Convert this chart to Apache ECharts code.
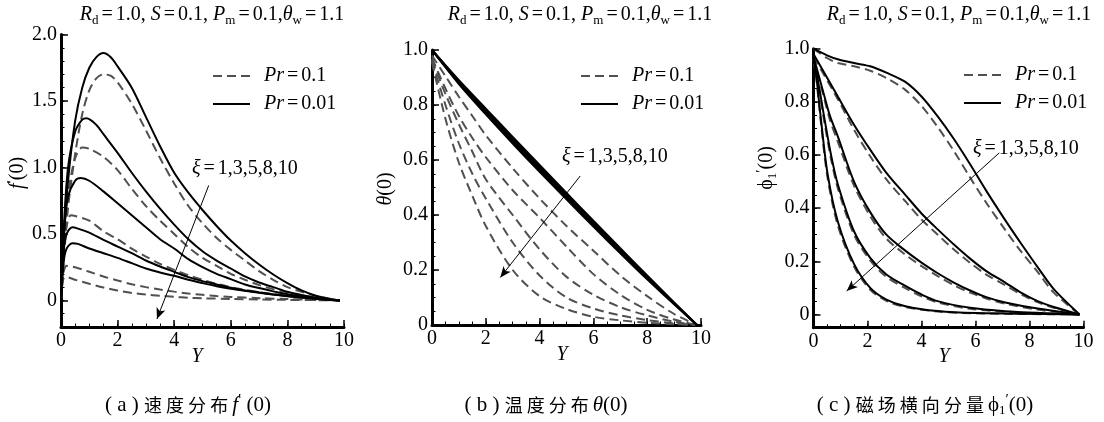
<!DOCTYPE html>
<html>
<head>
<meta charset="utf-8">
<script src="https://cdn.jsdelivr.net/npm/echarts@6/dist/echarts.min.js"></script>
<style>html,body{margin:0;padding:0;background:#fff}#c{width:1104px;height:422px}</style>
</head>
<body>
<div id="c"></div>
<script>
// ---------- DATA ----------
const xTicks = [0, 2, 4, 6, 8, 10];
const velYTicks = [0, 0.5, 1.0, 1.5, 2.0];
const tempYTicks = [0, 0.2, 0.4, 0.6, 0.8, 1.0];
const magYTicks = [0, 0.2, 0.4, 0.6, 0.8, 1.0];

// (a) velocity f'(0), Pr=0.01 (solid), xi = 1,3,5,8,10
const velSolid1 = [[0,0],[0.1,0.45],[0.25,0.9],[0.5,1.35],[0.75,1.6],[1.0,1.75],[1.25,1.83],[1.5,1.86],[1.75,1.83],[2.0,1.76],[2.5,1.6],[3.0,1.38],[3.5,1.16],[4.0,0.96],[4.5,0.81],[5.0,0.68],[5.5,0.56],[6.0,0.45],[6.5,0.355],[7.0,0.27],[7.5,0.195],[8.0,0.13],[8.5,0.075],[9.0,0.035],[9.5,0.01],[9.85,0]];
const velSolid2 = [[0,0],[0.1,0.55],[0.25,1.0],[0.5,1.27],[0.75,1.36],[0.9,1.37],[1.25,1.32],[1.5,1.25],[2.0,1.11],[2.5,0.96],[3.0,0.82],[3.5,0.69],[4.0,0.57],[4.5,0.46],[5.0,0.37],[5.5,0.3],[6.0,0.24],[6.5,0.18],[7.0,0.135],[7.5,0.1],[8.0,0.065],[8.5,0.04],[9.0,0.02],[9.5,0.006],[9.85,0]];
const velSolid3 = [[0,0],[0.1,0.5],[0.25,0.78],[0.5,0.9],[0.7,0.92],[1.0,0.9],[1.5,0.82],[2.0,0.73],[2.5,0.64],[3.0,0.55],[3.5,0.46],[4.0,0.39],[4.5,0.31],[5.0,0.25],[5.5,0.2],[6.0,0.16],[6.5,0.12],[7.0,0.093],[7.5,0.068],[8.0,0.046],[8.5,0.028],[9.0,0.015],[9.5,0.005],[9.85,0]];
const velSolid4 = [[0,0],[0.1,0.38],[0.2,0.5],[0.4,0.55],[0.6,0.54],[1.0,0.51],[1.5,0.455],[2.0,0.405],[2.5,0.355],[3.0,0.3],[3.5,0.255],[4.0,0.215],[4.5,0.175],[5.0,0.145],[5.5,0.12],[6.0,0.095],[6.5,0.075],[7.0,0.06],[7.5,0.045],[8.0,0.033],[8.5,0.022],[9.0,0.013],[9.5,0.005],[9.85,0]];
const velSolid5 = [[0,0],[0.1,0.3],[0.2,0.39],[0.4,0.43],[0.6,0.425],[1.0,0.39],[1.5,0.355],[2.0,0.32],[2.5,0.28],[3.0,0.24],[3.5,0.21],[4.0,0.185],[4.5,0.155],[5.0,0.13],[5.5,0.107],[6.0,0.088],[6.5,0.072],[7.0,0.057],[7.5,0.044],[8.0,0.032],[8.5,0.021],[9.0,0.012],[9.5,0.004],[9.85,0]];
// (a) Pr=0.1 (dashed)
const velDash1 = [[0,0],[0.1,0.3],[0.25,0.7],[0.5,1.1],[0.75,1.4],[1.0,1.58],[1.25,1.67],[1.5,1.70],[1.75,1.69],[2.0,1.64],[2.5,1.48],[3.0,1.28],[3.5,1.07],[4.0,0.88],[4.5,0.71],[5.0,0.58],[5.5,0.47],[6.0,0.38],[6.5,0.3],[7.0,0.22],[7.5,0.155],[8.0,0.1],[8.5,0.065],[9.0,0.035],[9.5,0.012],[9.85,0]];
const velDash2 = [[0,0],[0.1,0.45],[0.25,0.8],[0.5,1.07],[0.75,1.15],[1.0,1.14],[1.5,1.08],[2.0,0.98],[2.5,0.84],[3.0,0.71],[3.5,0.6],[4.0,0.5],[4.5,0.4],[5.0,0.32],[5.5,0.26],[6.0,0.2],[6.5,0.155],[7.0,0.115],[7.5,0.085],[8.0,0.06],[8.5,0.038],[9.0,0.02],[9.5,0.007],[9.85,0]];
const velDash3 = [[0,0],[0.1,0.4],[0.2,0.56],[0.35,0.64],[0.5,0.635],[1.0,0.6],[1.5,0.52],[2.0,0.46],[2.5,0.39],[3.0,0.33],[3.5,0.275],[4.0,0.23],[4.5,0.19],[5.0,0.155],[5.5,0.125],[6.0,0.1],[6.5,0.08],[7.0,0.062],[7.5,0.048],[8.0,0.036],[8.5,0.025],[9.0,0.015],[9.5,0.005],[9.85,0]];
const velDash4 = [[0,0],[0.05,0.15],[0.1,0.22],[0.2,0.26],[0.4,0.255],[1.0,0.215],[1.5,0.18],[2.0,0.15],[2.5,0.122],[3.0,0.1],[3.5,0.082],[4.0,0.066],[4.5,0.052],[5.0,0.042],[5.5,0.033],[6.0,0.026],[7.0,0.017],[8.0,0.01],[9.0,0.004],[9.85,0]];
const velDash5 = [[0,0],[0.05,0.12],[0.1,0.17],[0.2,0.175],[0.5,0.155],[1.0,0.125],[1.5,0.097],[2.0,0.074],[2.5,0.056],[3.0,0.044],[3.5,0.035],[4.0,0.027],[4.5,0.02],[5.0,0.016],[6.0,0.011],[7.0,0.007],[8.0,0.004],[9.0,0.002],[9.85,0]];

// (b) temperature theta(0)
const tempYS = [0, 1, 2, 3, 4, 5, 6, 7, 8, 9, 9.85];
const tempSolid1 = [1.0,0.89,0.787,0.684,0.582,0.48,0.379,0.279,0.18,0.082,0];
const tempSolid2 = [1.0,0.886,0.78,0.677,0.575,0.474,0.373,0.273,0.176,0.08,0];
const tempSolid3 = [1.0,0.883,0.776,0.672,0.57,0.469,0.369,0.27,0.173,0.079,0];
const tempSolid4 = [1.0,0.879,0.771,0.666,0.563,0.463,0.364,0.265,0.17,0.077,0];
const tempSolid5 = [1.0,0.876,0.766,0.66,0.557,0.457,0.358,0.261,0.166,0.075,0];
const tempYD = [0, 0.5, 1, 1.5, 2, 3, 4, 5, 6, 7, 8, 9, 9.85];
const tempDash1 = [0.98,0.905,0.83,0.76,0.69,0.57,0.46,0.36,0.27,0.18,0.105,0.04,0];
const tempDash2 = [0.97,0.86,0.76,0.68,0.61,0.49,0.39,0.285,0.185,0.11,0.055,0.02,0];
const tempDash3 = [0.965,0.84,0.73,0.63,0.53,0.4,0.275,0.175,0.11,0.065,0.035,0.012,0];
const tempDash4 = [0.96,0.8,0.66,0.55,0.46,0.3,0.18,0.1,0.06,0.035,0.018,0.006,0];
const tempDash5 = [0.955,0.75,0.59,0.47,0.36,0.2,0.105,0.058,0.03,0.017,0.008,0.003,0];

// (c) magnetic transverse component phi1'(0)
const magSolid1 = [[0,1],[0.5,0.975],[0.9,0.96],[1.5,0.946],[2.1,0.934],[2.7,0.91],[3.4,0.875],[4.0,0.82],[4.6,0.745],[5.2,0.66],[5.8,0.565],[6.4,0.465],[7.1,0.355],[7.7,0.265],[8.3,0.178],[8.9,0.095],[9.85,0]];
const magSolid2 = [[0,0.98],[0.9,0.82],[1.5,0.714],[2.1,0.62],[2.7,0.533],[3.4,0.45],[4.0,0.38],[4.6,0.32],[5.2,0.263],[5.8,0.21],[6.4,0.163],[7.1,0.12],[7.7,0.081],[8.3,0.05],[8.9,0.028],[9.85,0]];
const magSolid3 = [[0,0.97],[0.3,0.86],[0.6,0.75],[0.9,0.67],[1.5,0.5],[2.1,0.385],[2.7,0.3],[3.4,0.24],[4.0,0.195],[4.6,0.155],[5.2,0.12],[5.8,0.09],[6.4,0.065],[7.1,0.045],[8.3,0.022],[9.85,0]];
const magSolid4 = [[0,0.965],[0.2,0.86],[0.4,0.74],[0.65,0.6],[0.9,0.49],[1.5,0.313],[2.1,0.213],[2.7,0.15],[3.4,0.107],[4.0,0.075],[4.6,0.05],[5.8,0.025],[7.1,0.012],[8.5,0.005],[9.85,0]];
const magSolid5 = [[0,0.96],[0.1,0.9],[0.27,0.74],[0.52,0.53],[0.9,0.35],[1.5,0.19],[2.1,0.1],[2.7,0.056],[3.4,0.031],[4.6,0.0125],[6,0.005],[9.85,0]];
const magDash1 = [[0,1],[0.5,0.965],[0.9,0.946],[1.5,0.934],[2.1,0.917],[2.7,0.89],[3.4,0.845],[4.0,0.785],[4.6,0.705],[5.2,0.615],[5.8,0.515],[6.4,0.42],[7.1,0.318],[7.7,0.235],[8.3,0.16],[8.9,0.082],[9.85,0]];
const magDash2 = [[0,0.97],[0.9,0.81],[1.5,0.695],[2.1,0.595],[2.7,0.508],[3.4,0.426],[4.0,0.357],[4.6,0.3],[5.2,0.244],[5.8,0.194],[6.4,0.15],[7.1,0.11],[7.7,0.075],[8.3,0.046],[8.9,0.025],[9.85,0]];
const magDash3 = [[0,0.96],[0.3,0.85],[0.6,0.735],[0.9,0.65],[1.5,0.485],[2.1,0.37],[2.7,0.285],[3.4,0.225],[4.0,0.182],[4.6,0.144],[5.2,0.11],[5.8,0.082],[6.4,0.06],[7.1,0.04],[8.3,0.018],[9.85,0]];
const magDash4 = [[0,0.96],[0.2,0.85],[0.4,0.725],[0.65,0.585],[0.9,0.475],[1.5,0.3],[2.1,0.203],[2.7,0.141],[3.4,0.099],[4.0,0.068],[4.6,0.045],[5.8,0.021],[7.1,0.01],[8.5,0.004],[9.85,0]];
const magDash5 = [[0,0.955],[0.1,0.89],[0.27,0.725],[0.52,0.515],[0.9,0.335],[1.5,0.18],[2.1,0.093],[2.7,0.051],[3.4,0.028],[4.6,0.011],[6,0.004],[9.85,0]];

// annotation arrows (data coordinates, tail -> head)
const velArrow = [[5.22, 0.865], [3.39, -0.14]];
const tempArrow = [[5.51, 0.542], [2.54, 0.173]];
const magArrow = [[6.88, 0.608], [1.23, 0.088]];

const legendNames = ['Pr=0.1', 'Pr=0.01'];

// ---------- STYLE / BUILD ----------
const FONT = '"Liberation Serif","Times New Roman",serif';
const CJK = '"Noto Sans CJK SC",sans-serif';
const FS = 20;
const RICH = {
  i: {fontFamily: FONT, fontSize: FS, fontStyle: 'italic', lineHeight: 24, color: '#000'},
  n: {fontFamily: FONT, fontSize: FS, lineHeight: 24, color: '#000'},
  eq: {fontFamily: FONT, fontSize: FS, lineHeight: 24, padding: [0, 3, 0, 3], color: '#000'},
  sub: {fontFamily: FONT, fontSize: 13, lineHeight: 12, verticalAlign: 'bottom', color: '#000'},
  sup: {fontFamily: FONT, fontSize: 15, lineHeight: 14, verticalAlign: 'top', color: '#000'},
  c: {fontFamily: CJK, fontSize: 18, lineHeight: 24, color: '#000'},
  ci: {fontFamily: FONT, fontSize: 21, fontStyle: 'italic', lineHeight: 24, color: '#000'},
  cn: {fontFamily: FONT, fontSize: 21, lineHeight: 24, color: '#000'}
};

function pairs(xs, ys) { return xs.map((x, k) => [x, ys[k]]); }

const grids = [
  {left: 61, top: 34.5, width: 283, height: 292.5},
  {left: 432, top: 50, width: 269, height: 275},
  {left: 813.5, top: 48.7, width: 270, height: 279}
];
const yRanges = [
  {min: -0.2, max: 2.0, ticks: velYTicks, minor: 0.1},
  {min: 0, max: 1.0, ticks: tempYTicks, minor: 0.05},
  {min: -0.05, max: 1.0, ticks: magYTicks, minor: 0.05}
];

const xAxes = [], yAxes = [];
grids.forEach((g, i) => {
  xAxes.push({
    type: 'value', gridIndex: i, min: 0, max: 10, position: 'bottom',
    axisLine: {onZero: false, lineStyle: {color: '#000', width: 3}},
    axisTick: {inside: true, length: 7, lineStyle: {color: '#000', width: 1.5}, customValues: xTicks},
    axisLabel: {customValues: xTicks, color: '#000', fontFamily: FONT, fontSize: FS, margin: 4},
    splitLine: {show: false}
  });
  xAxes.push({
    type: 'value', gridIndex: i, min: 0, max: 10, interval: 0.5, position: 'bottom',
    axisLine: {show: false, onZero: false},
    axisTick: {inside: true, length: 3.5, lineStyle: {color: '#000', width: 1}},
    axisLabel: {show: false}, splitLine: {show: false}
  });
  const r = yRanges[i];
  yAxes.push({
    type: 'value', gridIndex: i, min: r.min, max: r.max, position: 'left',
    axisLine: {onZero: false, lineStyle: {color: '#000', width: 3}},
    axisTick: {inside: true, length: 7, lineStyle: {color: '#000', width: 1.5}, customValues: r.ticks},
    axisLabel: {customValues: r.ticks, color: '#000', fontFamily: FONT, fontSize: FS, margin: 4,
      formatter: v => (Math.abs(v) < 1e-9 ? '0' : v.toFixed(1))},
    splitLine: {show: false}
  });
  yAxes.push({
    type: 'value', gridIndex: i, min: r.min, max: r.max, interval: r.minor, position: 'left',
    axisLine: {show: false, onZero: false},
    axisTick: {inside: true, length: 3.5, lineStyle: {color: '#000', width: 1}},
    axisLabel: {show: false}, splitLine: {show: false}
  });
});

function line(data, panel, dashed) {
  return {
    type: 'line', name: dashed ? legendNames[0] : legendNames[1],
    xAxisIndex: panel * 2, yAxisIndex: panel * 2, data: data,
    symbol: 'none', showSymbol: false, smooth: 0.3, silent: true,
    z: dashed ? 2 : 3,
    itemStyle: {color: dashed ? '#505050' : '#000'},
    lineStyle: {color: dashed ? '#505050' : '#000', width: 2, type: dashed ? [9, 5] : 'solid'}
  };
}
function arrow(panel, a) {
  return {
    type: 'line', name: 'arrow' + panel, xAxisIndex: panel * 2, yAxisIndex: panel * 2, data: [],
    silent: true,
    markLine: {
      silent: true, symbol: ['none', 'arrow'], symbolSize: 10, animation: false,
      label: {show: false},
      lineStyle: {color: '#000', width: 1, type: 'solid'},
      data: [[{coord: a[0], symbol: 'none'}, {coord: a[1], symbol: 'arrow', symbolSize: [7, 11]}]]
    }
  };
}

const series = [];
[velDash1, velDash2, velDash3, velDash4, velDash5].forEach(d => series.push(line(d, 0, true)));
[velSolid1, velSolid2, velSolid3, velSolid4, velSolid5].forEach(d => series.push(line(d, 0, false)));
[tempDash1, tempDash2, tempDash3, tempDash4, tempDash5].forEach(d => series.push(line(pairs(tempYD, d), 1, true)));
[tempSolid1, tempSolid2, tempSolid3, tempSolid4, tempSolid5].forEach(d => series.push(line(pairs(tempYS, d), 1, false)));
[magDash1, magDash2, magDash3, magDash4, magDash5].forEach(d => series.push(line(d, 2, true)));
[magSolid1, magSolid2, magSolid3, magSolid4, magSolid5].forEach(d => series.push(line(d, 2, false)));
series.push(arrow(0, velArrow), arrow(1, tempArrow), arrow(2, magArrow));

const legendPos = [{left: 207, top: 61}, {left: 575, top: 61}, {left: 958, top: 60}];
const legends = legendPos.map(p => ({
  left: p.left, top: p.top, orient: 'vertical', data: legendNames,
  itemWidth: 37, itemHeight: 14, itemGap: 8, selectedMode: false,
  itemStyle: {opacity: 0, borderWidth: 0},
  formatter: name => name === legendNames[0] ? '{i|Pr}{eq|=}{n|0.1}' : '{i|Pr}{eq|=}{n|0.01}',
  textStyle: {color: '#000', fontFamily: FONT, fontSize: FS, padding: [0, 0, 0, 9], rich: RICH}
}));

function txt(x, y, text, rot) {
  return {type: 'text', x: x, y: y, rotation: rot || 0, silent: true,
    style: {text: text, rich: RICH, fontFamily: FONT, fontSize: FS, fill: '#000', align: 'center', verticalAlign: 'middle'}};
}
const titleStr = '{i|R}{sub|d}{eq|=}{n|1.0,}{i| S}{eq|=}{n|0.1, }{i|P}{sub|m}{eq|=}{n|0.1,}{i|θ}{sub|w}{eq|=}{n|1.1}';
const xiStr = '{i|ξ}{eq|=}{n|1,3,5,8,10}';
const graphic = [
  txt(212, 15, titleStr), txt(580, 15, titleStr), txt(959, 15, titleStr),
  {type: 'text', left: 192, top: 159, silent: true, style: {text: xiStr, rich: RICH, fill: '#000'}},
  {type: 'text', left: 562, top: 147, silent: true, style: {text: xiStr, rich: RICH, fill: '#000'}},
  {type: 'text', left: 973, top: 139, silent: true, style: {text: xiStr, rich: RICH, fill: '#000'}},
  txt(18, 173, '{i|f}{sup|′}{n|(0)}', Math.PI / 2),
  txt(386, 189, '{i|θ}{n|(0)}', Math.PI / 2),
  txt(767, 168, '{n|ϕ}{sub|1}{sup|′}{n|(0)}', Math.PI / 2),
  txt(197, 357, '{i|Y}'), txt(562, 355, '{i|Y}'), txt(944, 357, '{i|Y}'),
  txt(188, 405, '{cn|( a ) }{c|速 度 分 布 }{ci|f}{sup|′}{cn| (0)}'),
  txt(546, 405, '{cn|( b ) }{c|温 度 分 布 }{ci|θ}{cn|(0)}'),
  txt(925, 405, '{cn|( c ) }{c|磁 场 横 向 分 量 }{cn|ϕ}{sub|1}{sup|′}{cn|(0)}')
];

const chart = echarts.init(document.getElementById('c'), null, {renderer: 'canvas'});
chart.setOption({
  animation: false,
  backgroundColor: '#fff',
  grid: grids,
  xAxis: xAxes,
  yAxis: yAxes,
  legend: legends,
  series: series,
  graphic: graphic
});
</script>
</body>
</html>
